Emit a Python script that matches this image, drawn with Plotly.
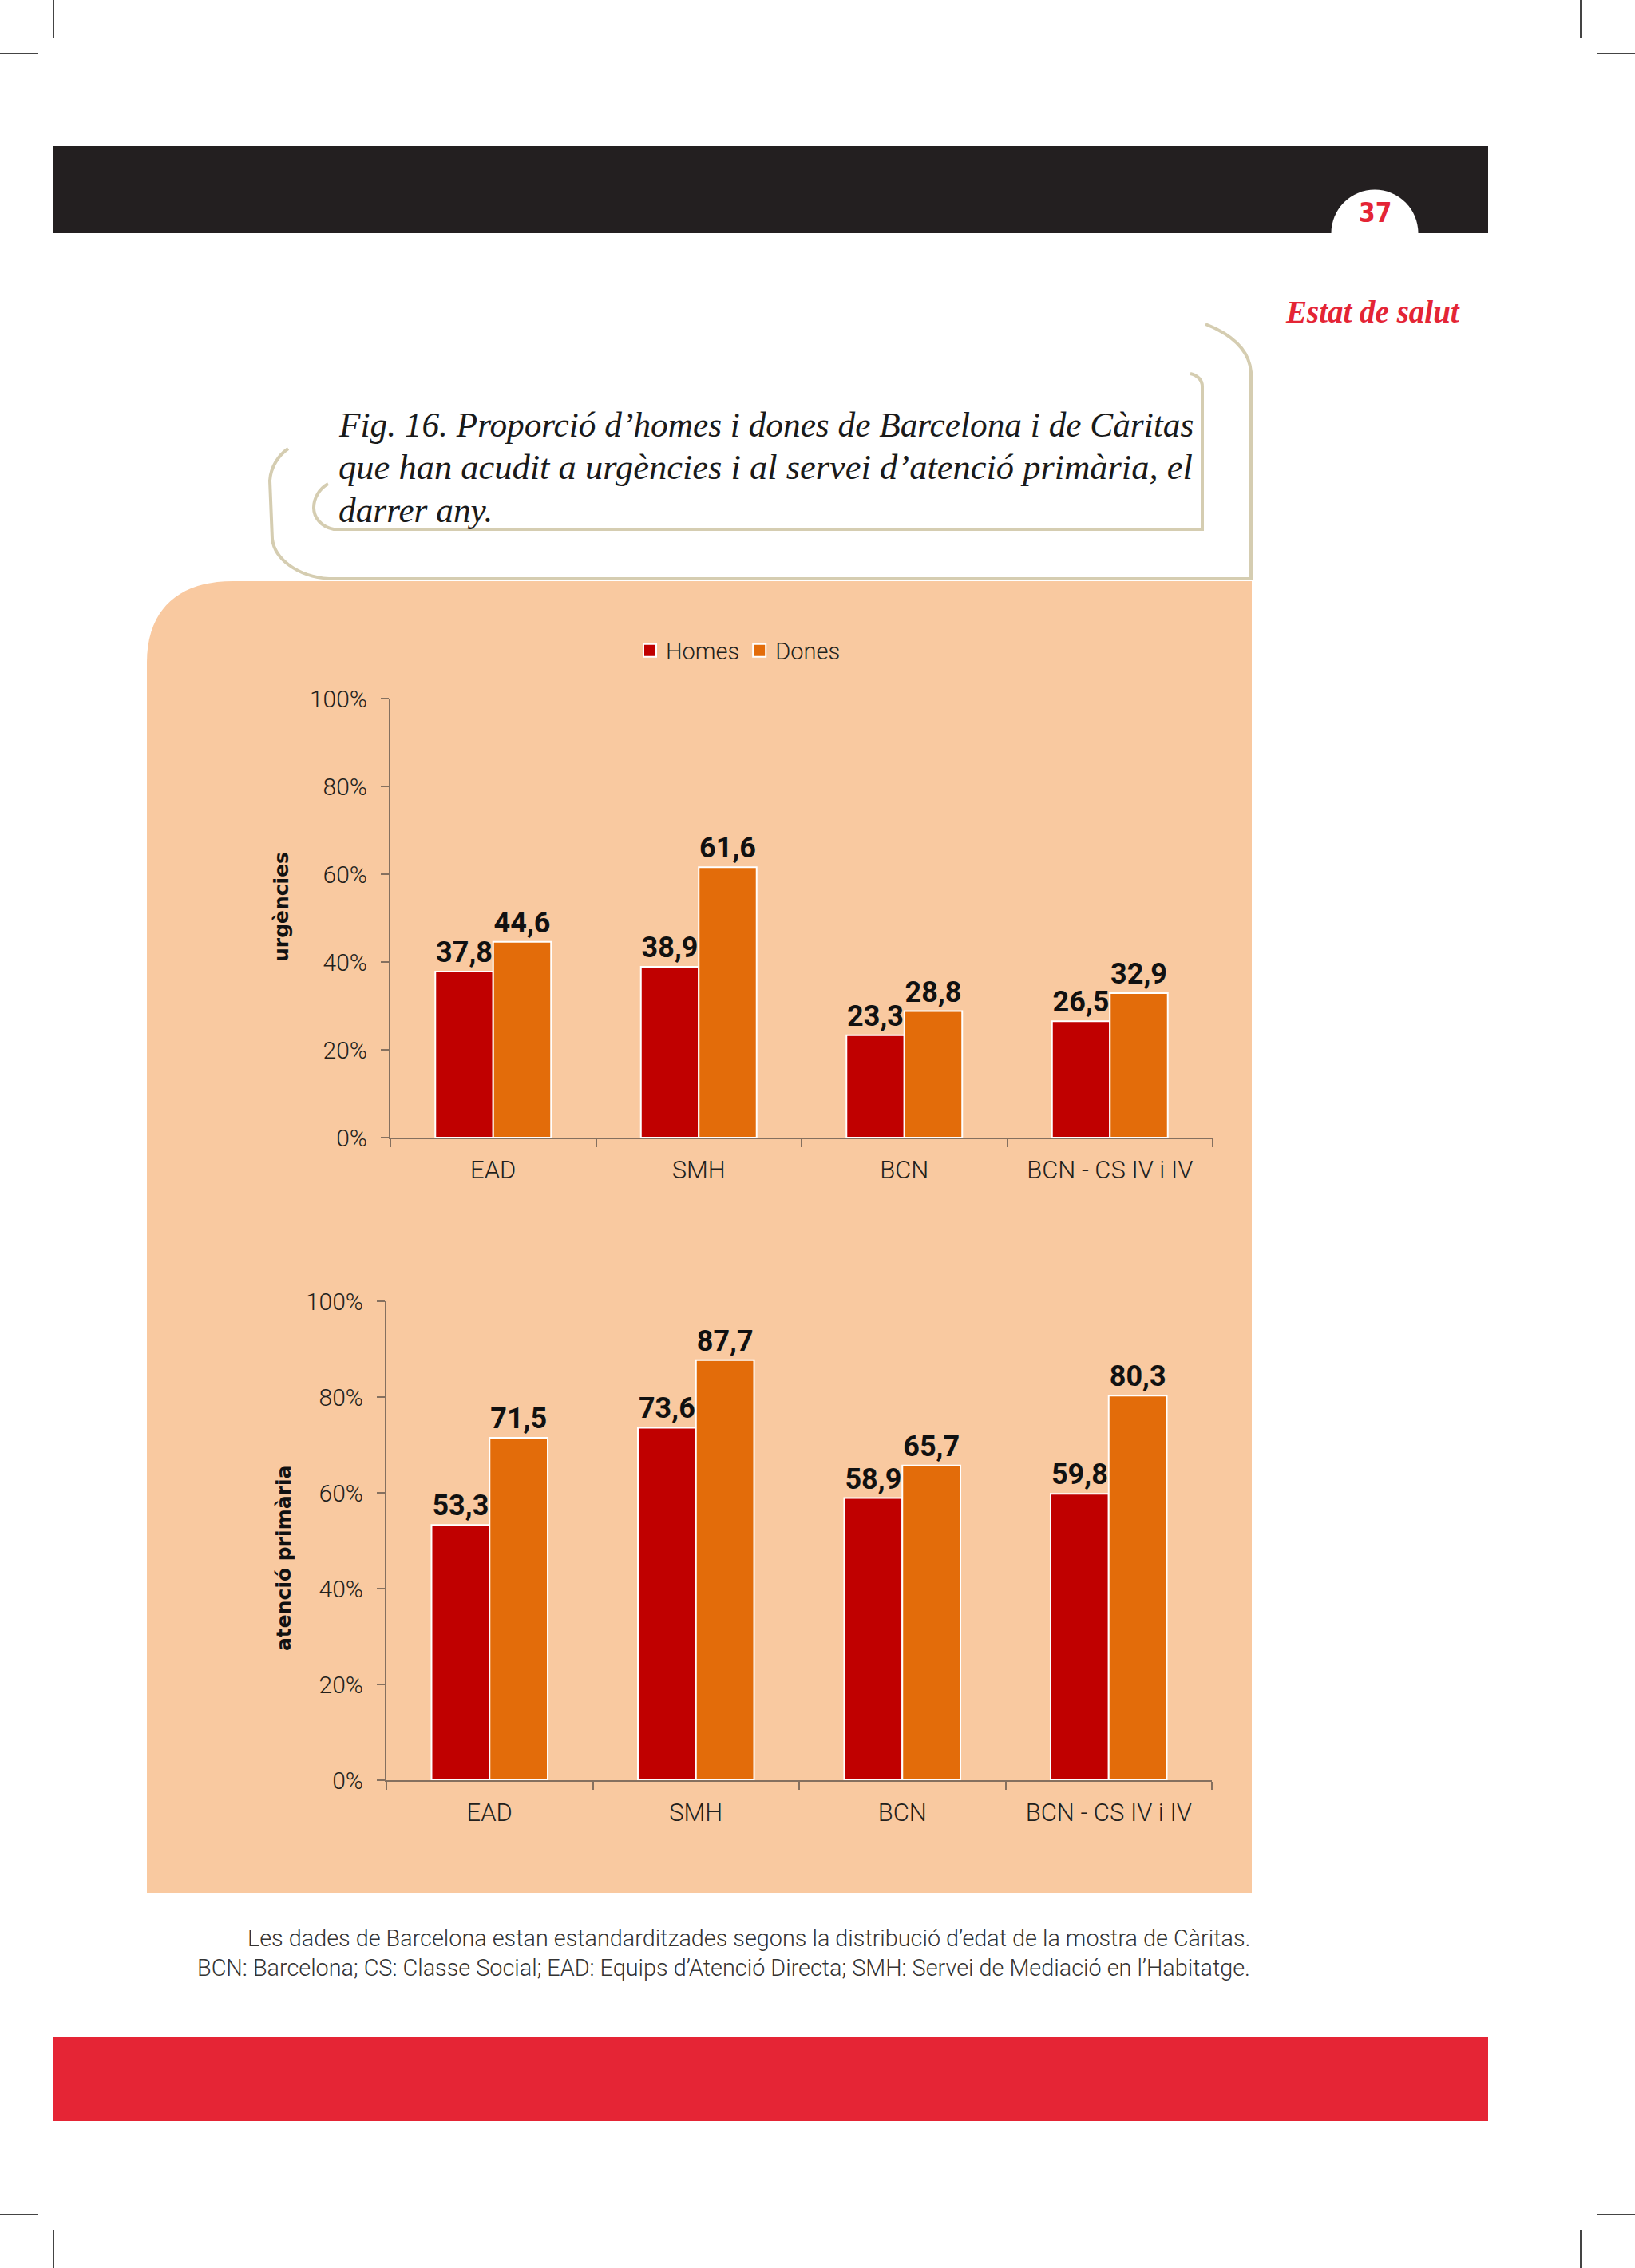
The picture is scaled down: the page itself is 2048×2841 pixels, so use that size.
import plotly.graph_objects as go

W, H = 2048, 2841

# ---------------- data ----------------
categories = ["EAD", "SMH", "BCN", "BCN - CS IV i IV"]
series_names = ["Homes", "Dones"]
urg_homes = [37.8, 38.9, 23.3, 26.5]
urg_dones = [44.6, 61.6, 28.8, 32.9]
ap_homes = [53.3, 73.6, 58.9, 59.8]
ap_dones = [71.5, 87.7, 65.7, 80.3]
y_tick_vals = [0, 20, 40, 60, 80, 100]
y_tick_text = ["0%", "20%", "40%", "60%", "80%", "100%"]
panel_titles = ["urgències", "atenció primària"]
title_lines = [
    "Fig. 16. Proporció d’homes i dones de Barcelona i de Càritas",
    "que han acudit a urgències i al servei d’atenció primària, el",
    "darrer any.",
]
footnote_lines = [
    "Les dades de Barcelona estan estandarditzades segons la distribució d’edat de la mostra de Càritas.",
    "BCN: Barcelona; CS: Classe Social; EAD: Equips d’Atenció Directa; SMH: Servei de Mediació en l’Habitatge.",
]
page_number = "37"
section_title = "Estat de salut"

# ---------------- style ----------------
HOMES = "#c00000"
DONES = "#e36c0a"
PANEL = "#f9c9a0"
FRAME = "#d5cdb1"
AXIS = "#85705f"
TXT = "#231f1c"
SANS = "Roboto, 'DejaVu Sans', sans-serif"
SERIF = "'Liberation Serif', 'DejaVu Serif', serif"


def px(x):
    return x / W


def py(y):
    return 1 - y / H


def P(x, y):
    return f"{px(x):.6f},{py(y):.6f}"


fig = go.Figure()

charts = [
    dict(h=urg_homes, d=urg_dones, xa="x", ya="y"),
    dict(h=ap_homes, d=ap_dones, xa="x2", ya="y2"),
]
for c in charts:
    for name, vals, col in [(series_names[0], c["h"], HOMES), (series_names[1], c["d"], DONES)]:
        fig.add_trace(go.Bar(
            x=categories, y=vals, name=name, xaxis=c["xa"], yaxis=c["ya"],
            marker=dict(color=col, line=dict(color="white", width=2)),
            texttemplate="%{y:.1f}", textposition="outside", cliponaxis=False,
            textfont=dict(family=SANS, size=36, color="#111111", weight="bold"),
            showlegend=False, legendgroup=name, hoverinfo="skip",
        ))

# legend entries (square markers with white border, as in the original)
for name, col in [(series_names[0], HOMES), (series_names[1], DONES)]:
    fig.add_trace(go.Scatter(
        x=[None], y=[None], mode="markers", name=name, legendgroup=name,
        marker=dict(symbol="square", size=16, color=col, line=dict(color="white", width=2)),
        showlegend=True, xaxis="x", yaxis="y", hoverinfo="skip",
    ))

axis_common = dict(
    showline=True, linecolor=AXIS, linewidth=2, showgrid=False, zeroline=False,
    ticks="outside", ticklen=10, tickwidth=2, tickcolor=AXIS, automargin=False,
    fixedrange=True,
)
xax = dict(axis_common, tickson="boundaries", ticklabelstandoff=12,
           tickfont=dict(family=SANS, size=31, color=TXT, weight=300))
yax = dict(axis_common, range=[0, 100], tickvals=y_tick_vals, ticktext=y_tick_text,
           ticklabelstandoff=11, tickfont=dict(family=SANS, size=30, color=TXT, weight=300))

fig.update_layout(
    width=W, height=H,
    margin=dict(l=0, r=0, t=0, b=0, pad=0, autoexpand=False),
    paper_bgcolor="white", plot_bgcolor="rgba(0,0,0,0)",
    separators=",.",
    barmode="group", bargap=0.437, bargroupgap=0,
    xaxis=dict(xax, domain=[px(489), px(1519)], anchor="y"),
    yaxis=dict(yax, domain=[py(1425), py(875)], anchor="x"),
    xaxis2=dict(xax, domain=[px(484), px(1518)], anchor="y2"),
    yaxis2=dict(yax, domain=[py(2230), py(1630)], anchor="x2"),
    legend=dict(orientation="h", x=px(926), xanchor="center", y=py(815), yanchor="middle",
                font=dict(family=SANS, size=29, color=TXT, weight=300), bgcolor="rgba(0,0,0,0)",
                traceorder="normal", itemsizing="trace"),
    showlegend=True,
)

shapes = []
# crop marks
for (x0, y0, x1, y1) in [
    (67, 0, 67, 48), (0, 67, 48, 67), (1980, 0, 1980, 48), (2000, 67, 2048, 67),
    (67, 2793, 67, 2841), (0, 2774, 48, 2774), (1980, 2793, 1980, 2841), (2000, 2774, 2048, 2774),
]:
    shapes.append(dict(type="line", xref="paper", yref="paper", x0=px(x0), y0=py(y0),
                       x1=px(x1), y1=py(y1), line=dict(color="#444444", width=2), layer="below"))
# black header bar
shapes.append(dict(type="rect", xref="paper", yref="paper", x0=px(67), x1=px(1864),
                   y0=py(292), y1=py(183), fillcolor="#231f20", line=dict(width=0), layer="below"))
# white tab circle
shapes.append(dict(type="circle", xref="paper", yref="paper", x0=px(1722 - 54.5), x1=px(1722 + 54.5),
                   y0=py(292 + 54.5), y1=py(292 - 54.5), fillcolor="white", line=dict(width=0),
                   layer="below"))
# red footer bar
shapes.append(dict(type="rect", xref="paper", yref="paper", x0=px(67), x1=px(1864),
                   y0=py(2657), y1=py(2552), fillcolor="#e52535", line=dict(width=0), layer="below"))
# peach panel with rounded top-left corner
panel_path = ("M" + P(184, 2371) + " L" + P(184, 830) + " C" + P(184, 765) + " " + P(222, 728) + " "
              + P(292, 728) + " L" + P(1568, 728) + " L" + P(1568, 2371) + " Z")
shapes.append(dict(type="path", xref="paper", yref="paper", path=panel_path,
                   fillcolor=PANEL, line=dict(width=0), layer="below"))
# decorative frame around title
outer = ("M" + P(1510, 406) + " C" + P(1545, 420) + " " + P(1565, 440) + " " + P(1567, 466)
         + " L" + P(1567, 725) + " L" + P(412, 725) + " C" + P(372, 722) + " " + P(344, 700) + " "
         + P(341, 675) + " L" + P(338, 602) + " C" + P(339, 585) + " " + P(349, 570) + " " + P(361, 562))
inner = ("M" + P(1491, 468) + " C" + P(1500, 470) + " " + P(1506, 476) + " " + P(1506, 484)
         + " L" + P(1506, 663) + " L" + P(418, 663) + " C" + P(402, 660) + " " + P(393, 648) + " "
         + P(393, 636) + " C" + P(393, 624) + " " + P(400, 612) + " " + P(411, 606))
for pth in (outer, inner):
    shapes.append(dict(type="path", xref="paper", yref="paper", path=pth,
                       line=dict(color=FRAME, width=4), layer="below"))
fig.update_layout(shapes=shapes)

ann = []
# page number and section title
ann.append(dict(text=f"<b>{page_number}</b>", x=px(1722), y=py(266), xanchor="center", yanchor="middle",
                font=dict(family="'DejaVu Sans Condensed', Roboto, sans-serif", size=33, color="#e42535")))
ann.append(dict(text=f"<b><i>{section_title}</i></b>", x=px(1831), y=py(391), xanchor="right",
                yanchor="middle", font=dict(family=SERIF, size=39, color="#e42535")))
# figure title
for line, yc, fs in zip(title_lines, [532, 585, 639], [43.3, 44.5, 43.3]):
    ann.append(dict(text=f"<i>{line}</i>", x=px(422), y=py(yc), xanchor="left", yanchor="middle",
                    font=dict(family=SERIF, size=fs, color="#1a1a1a")))
# y titles
for t, (xc, yc) in zip(panel_titles, [(352, 1136), (355, 1952)]):
    ann.append(dict(text=f"<b>{t}</b>", x=px(xc), y=py(yc), xanchor="center", yanchor="middle",
                    textangle=-90, font=dict(family="'DejaVu Sans', sans-serif", size=25, color="#111111")))
# footnote
for line, yc in zip(footnote_lines, [2428, 2465]):
    ann.append(dict(text=line, x=px(1568), y=py(yc), xanchor="right", yanchor="middle",
                    font=dict(family=SANS, size=28.8, color="#333333", weight=300)))
for a in ann:
    a.update(xref="paper", yref="paper", showarrow=False)
fig.update_layout(annotations=ann)

fig.write_html("out.html", config={"displayModeBar": False},
               post_script="document.body.style.margin='0';")
